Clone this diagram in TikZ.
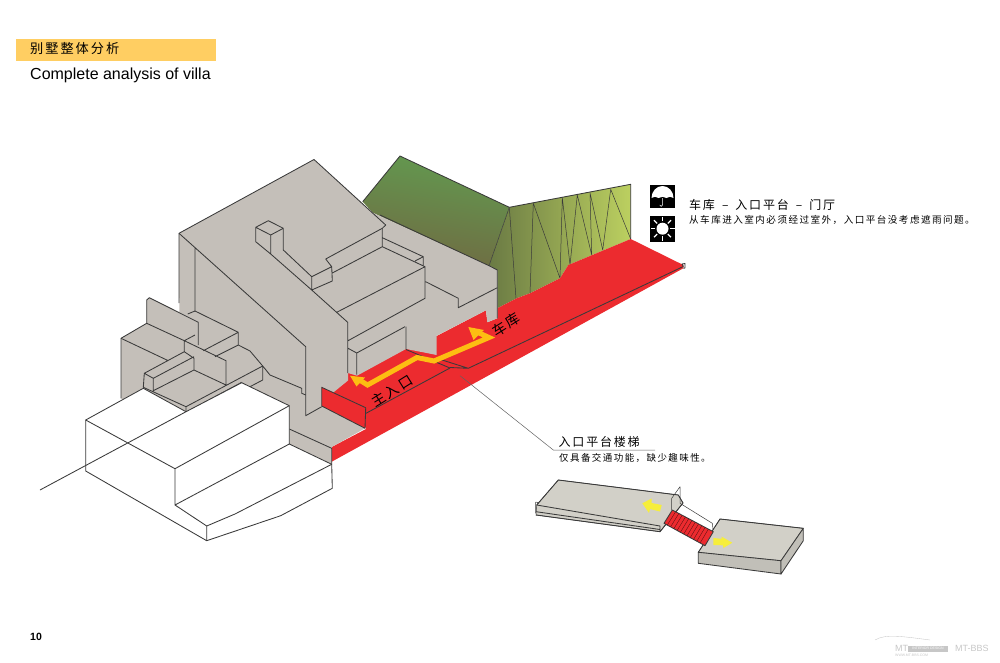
\documentclass[tikz,border=0pt]{standalone}
\usepackage{fontspec}
\usetikzlibrary{calc}
\setmainfont{Liberation Sans}
\newfontfamily\cjk[LetterSpace=15]{Noto Sans CJK SC}
\definecolor{wallgrey}{HTML}{C4BFB9}
\definecolor{inkline}{HTML}{3A3A3A}
\definecolor{floorred}{HTML}{EC2B2F}
\definecolor{pathgold}{HTML}{FDBE12}
\definecolor{palegold}{HTML}{F6EE3C}
\definecolor{barorange}{HTML}{FFCE62}
\definecolor{slabgrey}{HTML}{D2D0C8}
\definecolor{slopegreen}{HTML}{629A50}
\definecolor{slopeolive}{HTML}{706A42}
\definecolor{foldolive}{HTML}{6A7A44}
\definecolor{foldgreen}{HTML}{58A04C}
\definecolor{foldlime}{HTML}{BCD060}
\tikzset{
    edge/.style={draw=inkline, line width=0.85pt, line join=round},
    thinedge/.style={draw=inkline, line width=0.5pt},
    textnode/.style={inner sep=0pt, anchor=west},
}
\begin{document}
\begin{tikzpicture}[x=1pt, y=-1pt]
    \useasboundingbox (0,0) rectangle (1000,663);
    % 标题
    \fill[barorange] (16,39) rectangle (216,61);
    \node[textnode, font=\cjk\fontsize{13.2}{15}\selectfont] (title) at (30,48.5) {别墅整体分析};
    \node[textnode, font=\fontsize{16}{18}\selectfont] (subtitle) at (30,75) {Complete analysis of villa};
    \node[textnode, font=\bfseries\fontsize{10.5}{12}\selectfont] (pageno) at (30,637) {10};

    % 绿色坡地
    \shade[top color=slopegreen, bottom color=slopeolive, shading angle=-10]
        (362.7,201.7) -- (400,156) -- (509.3,207.3) -- (488.7,266.7) -- (372.7,212.7) -- cycle;
    \shade[left color=foldolive, middle color=foldgreen, right color=foldlime]
        (509.3,207.3) -- (630.7,184.3) -- (630.7,239) -- (568.3,265) -- (560,278.3) -- (530,293.3) -- (516.7,298.3) -- (497.3,308.3) -- (497.3,270.7) -- (488.7,266.7) -- cycle;
    \draw[edge] (362.7,201.7) -- (400,156) -- (509.3,207.3) -- (630.7,184.3) -- (630.7,239);
    \draw[thinedge] (509.3,207.3) -- (488.7,266.7) (509.3,207.3) -- (516,298.3)
        (533.3,203.3) -- (530,293.3) (533.3,203.3) -- (560,278.3) (562.3,197.7) -- (560,278.3)
        (562.3,197.7) -- (570,265) (577.3,195) -- (570,265) (577.3,195) -- (591.7,255)
        (590,192.7) -- (591.7,255) (590,192.7) -- (602.7,250) (610.7,189.3) -- (602.7,250) (610.7,189.3) -- (630.7,239);

    % 红色平台
    \fill[floorred] (331.7,447) -- (366,429) -- (360,415) -- (335,398) -- (333.3,392.5) -- (348,370) -- (406,345) -- (436.7,336) -- (486,310.3) -- (487.3,322.3) -- (497.3,318.3) -- (497.3,308.3) -- (516.7,298.3) -- (530,293.3) -- (560,278.3) -- (568.3,265) -- (630.7,239) -- (683.3,265) -- (683.3,268.3) -- (331.7,461.7) -- cycle;

    % 灰色主体
    \fill[wallgrey] (121,338.3) -- (146.7,323.3) -- (146.7,300) -- (149.3,297.7) -- (179.3,312) -- (179,233.3) -- (314,159.5) -- (372.7,212.7) -- (489,265.7) -- (497.3,270) -- (497.3,318.3) -- (487.3,322.3) -- (486,310.3) -- (436.7,335.7) -- (436.7,355) -- (420,351.7) -- (406,349) -- (357,375.7) -- (348,373) -- (348,380.5) -- (333.3,392.5) -- (321.7,387.3) -- (321.7,406) -- (365,428.3) -- (331.7,447) -- (331.7,464) -- (289.3,444) -- (175,440) -- (121,398.3) -- cycle;
    \draw[edge] (121,398.3) -- (121,338.3) -- (146.7,323.3) -- (146.7,300) -- (149.3,297.7) -- (198.3,322.3) -- (198.3,345)
        (179,303) -- (179,233.3) -- (314,159.5) -- (385.7,225) -- (382.3,228.3) -- (325.7,259);
    \draw[edge] (380,215) -- (489,265.7) -- (497.3,270) -- (497.3,318.3) (406,326.7) -- (406,349);

    % 主体内部线
    \draw[edge] (179,233.3) -- (305.7,346.7) -- (305.7,415.7) -- (321.7,406.7)
        (195,248.3) -- (195,311.7)
        (311.7,290) -- (347.7,322.3) -- (347.7,373)
        (255.7,227.3) -- (268.3,220.7) -- (283.3,228.3) -- (270.7,235) -- cycle
        (255.7,227.3) -- (255.7,241.7) -- (270.7,254) -- (270.7,235)
        (283.3,228.3) -- (283.3,250) -- (311.7,276.7) -- (331.7,266.7) -- (325.7,259)
        (311.7,276.7) -- (311.7,290) -- (332.3,281) -- (331.7,266.7)
        (270.7,254) -- (311.7,290)
        (332.3,273) -- (382.3,246.7) -- (382.3,228.3)
        (382.3,237.7) -- (423.3,256.7) -- (423.3,265) (415,261) -- (423.3,256.7)
        (382.3,246.7) -- (425,266.7) -- (425,298.3) -- (347.5,341)
        (336.7,312.3) -- (425,266.7)
        (425.7,281.7) -- (458.3,298.3) -- (458.3,307.7) -- (497.3,287.7)
        (347.5,348) -- (356.7,353) -- (356.7,374.5)
        (356.7,353) -- (405,326.7);

    % 左侧附属体
    \draw[edge] (187.7,314) -- (195,311) -- (238.3,332.3) -- (238.3,345) -- (215,356.7)
        (238.3,332.3) -- (203.3,350.7)
        (238.3,345) -- (250,351) -- (263.3,366.7) -- (270,375) -- (301.7,388.3) -- (301.7,393.3) -- (305.7,395)
        (146.7,323.3) -- (184.3,340.7) -- (184.3,351.7) -- (194,358.3) -- (194,370) -- (226,385) -- (226,360.7) -- (184.3,340.7) -- (195,335)
        (121,338.3) -- (168.3,360.7)
        (144.3,373.3) -- (184.3,351.7)
        (194,356.7) -- (153.3,378.3) -- (144.3,373.3) -- (143.3,387.3)
        (153.3,378.3) -- (153.3,390.7) -- (194,370)
        (143.3,387.3) -- (186,406.7) -- (186,412.3) -- (241.7,382.3)
        (186,406.7) -- (262.7,366) -- (262.7,380) -- (250,386.7);

    % 底座
    \fill[wallgrey] (289.3,429) -- (331.7,448.3) -- (331.7,464.3) -- (289.3,444) -- cycle;
    \draw[edge] (289.3,429) -- (331.7,448.3) -- (331.7,464.3);

    % 白色体块
    \draw[edge, fill=white] (85.7,420) -- (143.3,388.3) -- (186,411.7) -- (241.7,382.7) -- (289.3,405.7) -- (289.3,444) -- (331.7,464.3) -- (332.3,488.3) -- (280.7,515.7) -- (206.7,540.7) -- (85.7,471) -- cycle;
    \draw[edge] (85.7,420) -- (175,468.7) -- (289.3,405.7)
        (175,468.7) -- (175,505) -- (289.3,444)
        (175,505) -- (206.7,526) -- (206.7,540.7)
        (206.7,526) -- (235,514) -- (331.7,464.3)
        (40,490) -- (186,411.7);

    % 红色台阶与地面线
    \draw[edge, fill=floorred] (321.7,387.3) -- (365.7,407.7) -- (365,428.3) -- (321.7,406) -- cycle;
    \draw[edge] (366,413.3) -- (450,368) -- (406,349.5) (450,367.5) -- (468.3,368.3) -- (436.7,358.3)
        (468.3,368.3) -- (683.3,266.5) -- (682,264) -- (685,263.5) -- (685,268) -- (683.3,268.3);

    % 动线
    \draw[pathgold, line width=5pt, line join=miter] (358,379) -- (367.5,385) -- (417,357.5) -- (434,361) -- (489,337.5) -- (477,332);
    \fill[pathgold] (350,375.7) -- (365,377.5) -- (356.5,386.5) -- cycle;
    \fill[pathgold] (468.3,327) -- (484,330) -- (473.5,340) -- cycle;
    \node[font=\cjk\fontsize{14}{15}\selectfont, rotate=32, inner sep=0pt] (mainentry) at (392,391) {主入口};
    \node[font=\cjk\fontsize{14}{15}\selectfont, rotate=32, inner sep=0pt] (garage) at (506,325) {车库};

    % 引线
    \node[textnode, font=\cjk\fontsize{12}{14}\selectfont] (stairtitle) at (558.5,442) {入口平台楼梯};
    \node[textnode, font=\cjk\fontsize{9.5}{11}\selectfont] (stairnote) at (559,457.5) {仅具备交通功能^^^^ff0c缺少趣味性。};
    \coordinate (stairpt) at (460,375.7);
    \coordinate (bendpt) at (553.3,450);
    \coordinate (leadend) at (655,450);
    \draw[draw=inkline!80, line width=0.5pt] (stairpt) -- (bendpt) -- (leadend);

    % 图标
    \fill[black] (650,184.5) rectangle (675,208);
    \fill[white] (651.5,198) arc (180:360:11 and 12) -- (670,196.8) -- (666.5,198) -- (662.5,196.8) -- (658.5,198) -- (655,196.8) -- cycle;
    \draw[white, line width=0.5pt] (662.5,198) -- (662.5,205) arc (0:180:1.4);
    \fill[black] (650,216) rectangle (675,241.5);
    \fill[white] (662.5,228.7) circle (6);
    \foreach \a in {0,45,...,315} {
        \draw[white, line width=1.3pt] (662.5,228.7) ++(\a:7.5) -- ++(\a:4.5);
    }
    \node[textnode, font=\cjk\fontsize{12}{14}\selectfont] (routetitle) at (689,204.5) {车库\hspace{7pt}–\hspace{7pt}入口平台\hspace{7pt}–\hspace{7pt}门厅};
    \node[textnode, font=\cjk\fontsize{9.6}{11}\selectfont] (routenote) at (689,220) {从车库进入室内必须经过室外^^^^ff0c入口平台没考虑遮雨问题。};

    % 楼梯小图
    \draw[thinedge] (535.5,502) -- (535.5,513.3) (535.5,502) -- (540,503);
    \draw[thinedge, fill=slabgrey] (558.3,480) -- (678.3,495) -- (683,503) -- (660,531.7) -- (536,515) -- (536.7,505) -- cycle;
    \draw[edge] (536.7,505) -- (558.3,480) -- (678.3,495) (536.7,505) -- (660,526) -- (660,531.7) -- (536,515)
        (536,511.7) -- (660,529.5) (660,531.7) -- (683,503) -- (678.3,495);
    \draw[thinedge] (680,486.7) -- (680,503.3) -- (712.3,523.3) -- (713.3,531.7)
        (671.7,498.3) -- (680,486.7) (671.7,498.3) -- (671.7,510);
    \draw[thinedge, fill=slabgrey] (720,519) -- (803.3,528.3) -- (781,560.7) -- (698.3,552.3) -- cycle;
    \draw[edge, fill=slabgrey!92!black] (698.3,552.3) -- (781,560.7) -- (781,574) -- (698.3,563.3) -- cycle;
    \draw[edge, fill=slabgrey!92!black] (781,560.7) -- (803.3,528.3) -- (803.3,540.7) -- (781,574) -- cycle;
    \draw[edge] (698.3,552.3) -- (720,519) -- (803.3,528.3);
    \draw[edge, fill=floorred] (672.3,510) -- (713.3,531.7) -- (705,545.7) -- (664,523.3) -- cycle;
    \foreach \t in {0.08,0.16,...,0.96} {
        \draw[draw=black!70!floorred, line width=0.3pt] ($(672.3,510)!\t!(713.3,531.7)$) -- ($(664,523.3)!\t!(705,545.7)$);
    }
    \fill[palegold] (642.3,503.3) -- (651.5,498.5) -- (651.5,503) -- (661.7,505) -- (660,511.5) -- (650,509) -- (649,513) -- cycle;
    \fill[palegold] (732.3,542.7) -- (721.7,536.7) -- (721.7,538.8) -- (713.3,538) -- (713.3,545) -- (723,545.3) -- (723.3,548) -- cycle;

    % 水印
    \begin{scope}[black!22]
        \draw[line width=0.35pt] (875,640) .. controls (885,634) and (900,636) .. (930,640);
        \node[textnode, font=\fontsize{9}{10}\selectfont, black!22] (wmleft) at (895,648.5) {MT};
        \fill (908,645.7) rectangle (948,651.7);
        \node[font=\fontsize{3.5}{4}\selectfont, white, inner sep=0pt] (wmbar) at (928,648.7) {INTERIOR DESIGN};
        \node[textnode, font=\fontsize{9}{10}\selectfont, black!22] (wmright) at (955,648.5) {MT-BBS};
        \node[textnode, font=\fontsize{3.5}{4}\selectfont, black!22] (wmsite) at (895,655.5) {WWW.MT-BBS.COM};
    \end{scope}
\end{tikzpicture}
\end{document}
